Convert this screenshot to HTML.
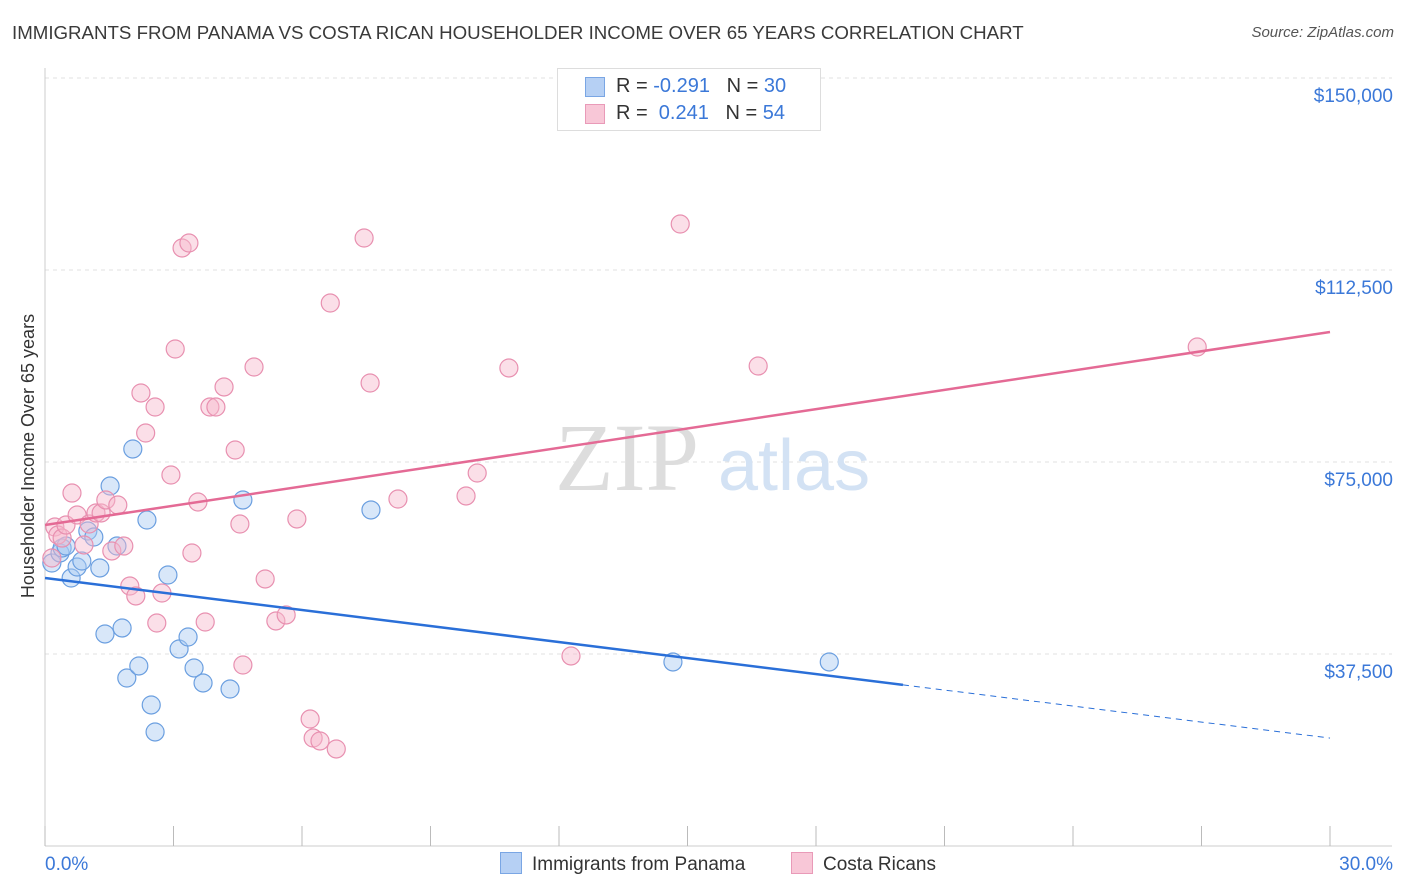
<!DOCTYPE html>
<html><head><meta charset="utf-8">
<style>
body{margin:0;background:#fff;font-family:"Liberation Sans",sans-serif;}
#wrap{position:relative;width:1406px;height:892px;overflow:hidden;}
.t{position:absolute;white-space:nowrap;}
</style></head>
<body><div id="wrap">
<div class="t" style="left:12px;top:22px;font-size:18.7px;color:#3a3a3a;">IMMIGRANTS FROM PANAMA VS COSTA RICAN HOUSEHOLDER INCOME OVER 65 YEARS CORRELATION CHART</div>
<div class="t" style="right:12px;top:24px;font-size:15px;color:#555;font-style:italic;">Source: ZipAtlas.com</div>
<svg id="svg" width="1406" height="892" style="position:absolute;left:0;top:0"></svg>
</div>
<script>
const xTicks=["0.0%","30.0%"];
const yTicks=[37500,75000,112500,150000];
const blueX=[0.16,0.35,0.40,0.49,0.61,0.75,0.86,1.00,1.14,1.28,1.40,1.52,1.68,1.80,1.91,2.05,2.19,2.38,2.48,2.57,2.87,3.13,3.34,3.48,3.69,4.32,4.62,7.61,14.66,18.31];
const blueY=[55270,57230,58200,58590,52340,54490,55660,61520,60350,54300,41410,70310,58590,42580,32810,77540,35160,63670,27540,22270,52930,38480,40820,34770,31840,30660,67580,65630,35940,35940];
const pinkX=[.16,.23,.30,.40,.49,.63,.75,.91,1.03,1.19,1.31,1.42,1.56,1.70,1.84,1.98,2.12,2.24,2.35,2.57,2.61,2.73,2.94,3.04,3.20,3.36,3.43,3.57,3.74,3.85,3.99,4.18,4.44,4.55,4.62,4.88,5.14,5.39,5.63,5.88,6.19,6.26,6.42,6.66,6.80,7.45,7.59,8.24,9.83,10.09,10.83,12.28,14.83,16.65,26.90];
const pinkY=[56250,62300,60740,60150,62690,68940,64650,58790,62890,65040,65040,67580,57620,66600,58590,50780,48830,88480,80660,85740,43550,49410,72460,97070,116800,117770,57230,67190,43750,85740,85740,89650,77340,62890,35350,93550,52150,43950,45120,63870,24800,21090,20510,106050,18950,118750,90430,67770,68360,72850,93360,37110,121480,93750,97460];
const blueTrend=[52340,-1042];
const pinkTrend=[62690,1257];
const blueSolidEnd=20.03;
const X=v=>45+v/30*1285, Y=v=>846-v/37500*192;
const S=document.getElementById('svg');const NS='http://www.w3.org/2000/svg';
function mk(t,a,p){const e=document.createElementNS(NS,t);for(const k in a)e.setAttribute(k,a[k]);(p||S).appendChild(e);return e;}
yTicks.forEach(v=>{const g=mk('line',{x1:45,x2:1392,y1:Y(v),y2:Y(v),stroke:'#e2e2e2','stroke-dasharray':'4,4'});


const t=mk('text',{x:1393,y:Y(v)+24,'text-anchor':'end','font-size':19,fill:'#3b78d8','font-family':'Liberation Sans'});t.textContent='$'+v.toLocaleString('en-US');

});
mk('line',{x1:45,x2:45,y1:68,y2:846,stroke:'#ccc'});
mk('line',{x1:45,x2:1392,y1:846,y2:846,stroke:'#ccc'});
for(let i=0;i<=10;i++){const l=mk('line',{x1:X(i*3),x2:X(i*3),y1:826,y2:846,stroke:'#bbb'});

}
[[0,'start',45],[1,'end',1393]].forEach(([i,a,x])=>{const t=mk('text',{x:x,y:870,'text-anchor':a,'font-size':19,fill:'#3b78d8','font-family':'Liberation Sans'});t.textContent=xTicks[i];

});
const yt=mk('text',{transform:'translate(34,456) rotate(-90)','text-anchor':'middle','font-size':18,fill:'#333','font-family':'Liberation Sans'});yt.textContent='Householder Income Over 65 years';


const w=mk('text',{x:555,y:490,'font-size':96,fill:'#ddd','font-family':'Liberation Serif'});w.textContent='ZIP';


const w2=mk('text',{x:718,y:490,'font-size':72,fill:'#d3e2f4','font-family':'Liberation Sans'});w2.textContent='atlas';


function pts(xs,ys,f,s,n){xs.forEach((x,i)=>{const c=mk('circle',{cx:X(x),cy:Y(ys[i]),r:9,fill:f,'fill-opacity':0.45,stroke:s,'stroke-width':1.2});

});}
pts(blueX,blueY,'#a9c9f2','#6b9fe0','panama-point');
pts(pinkX,pinkY,'#f6b9cd','#e890b0','costa-rica-point');
const bl=mk('line',{x1:X(0),y1:Y(blueTrend[0]),x2:X(blueSolidEnd),y2:Y(blueTrend[0]+blueTrend[1]*blueSolidEnd),stroke:'#2a6fd8','stroke-width':2.5});


const bd=mk('line',{x1:X(blueSolidEnd),y1:Y(blueTrend[0]+blueTrend[1]*blueSolidEnd),x2:X(30),y2:Y(blueTrend[0]+blueTrend[1]*30),stroke:'#2a6fd8','stroke-width':1,'stroke-dasharray':'6,5'});


const pl=mk('line',{x1:X(0),y1:Y(pinkTrend[0]),x2:X(30),y2:Y(pinkTrend[0]+pinkTrend[1]*30),stroke:'#e46a95','stroke-width':2.5});


</script>
<div class="t" style="left:557px;top:68px;width:262px;height:61px;border:1px solid #ddd;background:#fff;font-size:20px;color:#333;">
<div style="position:absolute;left:27px;top:8px;width:18px;height:18px;background:#b6d0f4;border:1px solid #7aa6e4"></div>
<div style="position:absolute;left:58px;top:6px">R = <span style="color:#3b78d8">-0.291</span> &nbsp;&nbsp;N = <span style="color:#3b78d8">30</span></div>
<div style="position:absolute;left:27px;top:35px;width:18px;height:18px;background:#f8c7d7;border:1px solid #e99ab8"></div>
<div style="position:absolute;left:58px;top:33px">R = &nbsp;<span style="color:#3b78d8">0.241</span> &nbsp;&nbsp;N = <span style="color:#3b78d8">54</span></div>
</div>
<div class="t" style="left:500px;top:852px;font-size:19px;color:#333;"><span style="display:inline-block;width:20px;height:20px;background:#b6d0f4;border:1px solid #7aa6e4;vertical-align:-4px;margin-right:10px"></span>Immigrants from Panama</div>
<div class="t" style="left:791px;top:852px;font-size:19px;color:#333;"><span style="display:inline-block;width:20px;height:20px;background:#f8c7d7;border:1px solid #e99ab8;vertical-align:-4px;margin-right:10px"></span>Costa Ricans</div>
</body></html>
